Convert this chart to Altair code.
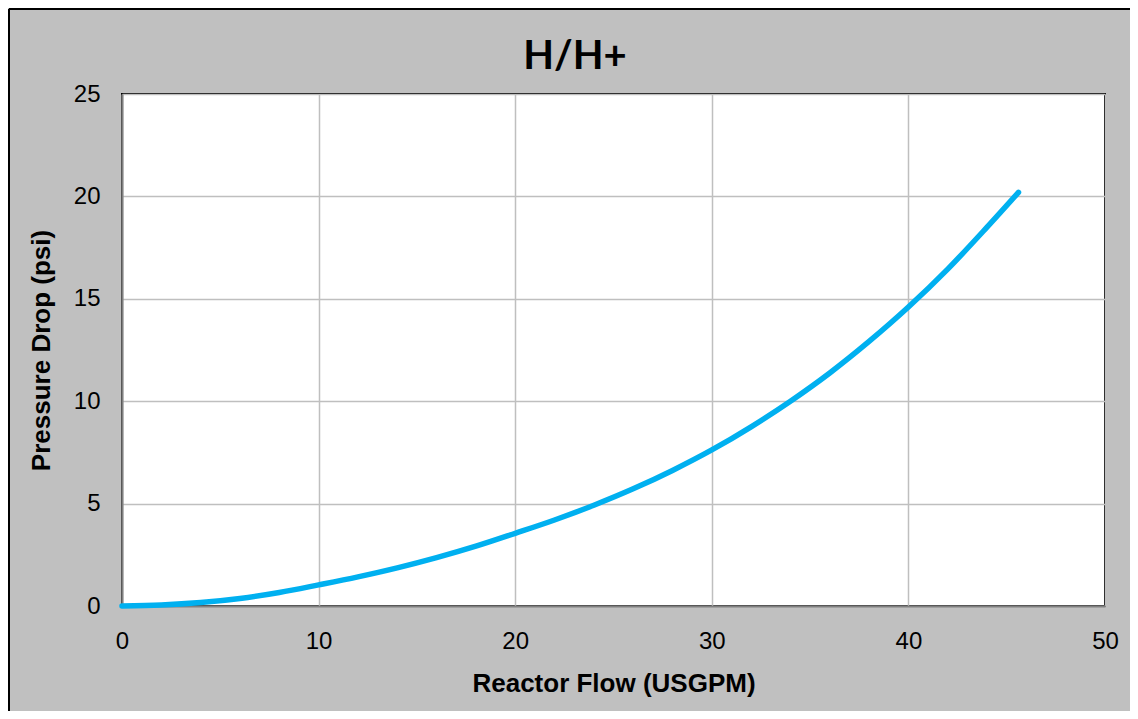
import altair as alt
import pandas as pd

# Data
flow = [0, 2, 4, 6, 8, 10, 12, 14, 16, 18, 20, 22, 24, 26, 28, 30, 32, 34, 36, 38, 40, 42, 44, 45.6]
pressure = [0, 0.05, 0.17, 0.37, 0.66, 1.03, 1.42, 1.86, 2.36, 2.92, 3.55, 4.2, 4.92, 5.72, 6.62, 7.62,
            8.75, 10.0, 11.38, 12.92, 14.6, 16.45, 18.5, 20.2]
x_ticks = [0, 10, 20, 30, 40, 50]
y_ticks = [0, 5, 10, 15, 20, 25]
chart_title = "H/H+"

df = pd.DataFrame({"flow": flow, "pressure": pressure})

PW, PH = 983, 512
PAD_L, PAD_T = 114, 86
TOTAL_W, TOTAL_H = 1122, 703
PAD_R = TOTAL_W - PAD_L - PW
PAD_B = TOTAL_H - PAD_T - PH

line = alt.Chart(df).mark_line(color="#00b0f0", strokeWidth=5.5, strokeCap="round",
                               interpolate="monotone", clip=False).encode(
    x=alt.X("flow:Q",
            scale=alt.Scale(domain=[0, 50], nice=False, zero=True),
            axis=alt.Axis(values=x_ticks, title="Reactor Flow (USGPM)", grid=True,
                          gridColor="#bfbfbf", gridWidth=1.5,
                          domainColor="#808080", domainWidth=2,
                          ticks=False, labelPadding=23,
                          labelFont="Liberation Sans", labelFontSize=24, labelColor="black",
                          labelFlush=False,
                          titleFont="Liberation Sans", titleFontSize=26, titleFontWeight="bold",
                          titleColor="black", titlePadding=17)),
    y=alt.Y("pressure:Q",
            scale=alt.Scale(domain=[0, 25], nice=False),
            axis=alt.Axis(values=y_ticks, title="Pressure Drop (psi)", grid=True,
                          gridColor="#bfbfbf", gridWidth=1.5,
                          domainColor="#808080", domainWidth=2,
                          ticks=False, labelPadding=22,
                          labelFont="Liberation Sans", labelFontSize=24, labelColor="black",
                          labelFlush=False,
                          titleFont="Liberation Sans", titleFontSize=26, titleFontWeight="bold",
                          titleColor="black", titlePadding=19)),
)

title_df = pd.DataFrame({"t": [chart_title]})
title_mark = alt.Chart(title_df).mark_text(
    font="Lato", fontSize=40, fontWeight="bold", color="black",
    align="center", baseline="alphabetic", clip=False
).encode(text="t:N", x=alt.value(453), y=alt.value(-25))

# outer frame (left and top edges of the chart box)
frame_left = alt.Chart(title_df).mark_rule(color="black", strokeWidth=2, clip=False).encode(
    x=alt.value(-PAD_L + 1), y=alt.value(-PAD_T + 1), y2=alt.value(PH + PAD_B)
)
frame_top = alt.Chart(title_df).mark_rule(color="black", strokeWidth=2, clip=False).encode(
    x=alt.value(-PAD_L + 1), x2=alt.value(PW + PAD_R), y=alt.value(-PAD_T + 1)
)

chart = alt.layer(line, title_mark, frame_left, frame_top).properties(
    width=PW, height=PH,
    autosize=alt.AutoSizeParams(type="none"),
    padding={"left": PAD_L, "top": PAD_T, "right": PAD_R, "bottom": PAD_B},
    background="#c0c0c0",
).configure_view(stroke="black", strokeWidth=2, fill="white")

chart.save("out.html", embed_options={"renderer": "svg", "actions": False})
